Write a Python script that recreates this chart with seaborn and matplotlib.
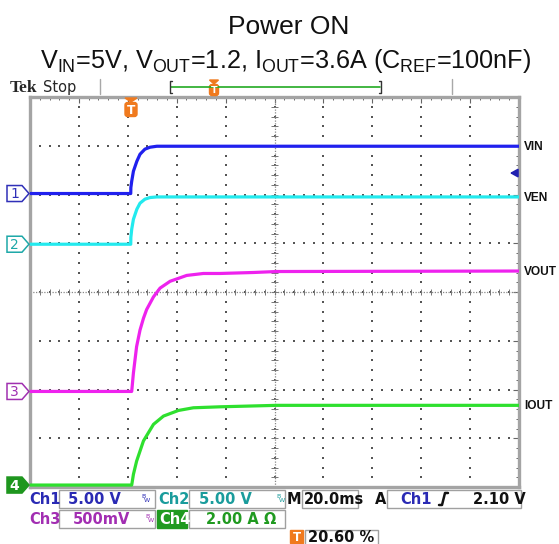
import numpy as np
import pandas as pd
import seaborn as sns
import matplotlib.pyplot as plt
from matplotlib.patches import Rectangle, Polygon, FancyBboxPatch

# traces, time in ms from the trigger point
vin_t = [-41.2, 0.0, 0.05, 0.4, 1.1, 2.5, 3.8, 5.8, 7.9, 10.7, 158.8]
vin_v = [0.0, 0.0, 0.6, 1.26, 2.29, 3.31, 4.03, 4.55, 4.75, 4.85, 4.85]

ven_t = [-41.2, 0.0, 0.05, 0.4, 1.1, 2.5, 3.8, 5.8, 7.9, 10.7, 158.8]
ven_v = [0.0, 0.0, 0.7, 1.54, 2.56, 3.59, 4.21, 4.62, 4.79, 4.85, 4.85]

vout_t = [-41.2, 0.4, 1.1, 2.4, 3.8, 5.2, 6.5, 9.3, 12.0, 16.1, 19.5, 22.9, 29.7, 36.5, 50.1, 59.7, 158.8]
vout_v = [0.0, 0.0, 0.19, 0.46, 0.63, 0.75, 0.84, 0.97, 1.06, 1.13, 1.16, 1.19, 1.21, 1.21, 1.22, 1.23, 1.235]

iout_t = [-41.2, 0.4, 1.1, 2.4, 5.2, 9.3, 13.4, 19.5, 25.6, 36.5, 59.7, 158.8]
iout_a = [0.0, 0.0, 0.44, 0.98, 1.81, 2.49, 2.83, 3.06, 3.17, 3.21, 3.27, 3.27]

channels = ["VIN", "VEN", "VOUT", "IOUT"]
units_per_div = [5.0, 5.0, 0.5, 2.0]
ground_div = [2.02, 0.98, -2.04, -3.96]
trace_colors = ["#2020ee", "#22eaee", "#ee22ee", "#2ee02e"]

# horizontal: 20 ms/div, trigger at 20.6 % of the record
ms_per_div = 20.0
t_left = -0.206 * 10 * ms_per_div
t_right = t_left + 10 * ms_per_div

sns.set_style("white")
plt.rcParams["font.family"] = ["Liberation Sans", "DejaVu Sans"]
plt.rcParams["mathtext.fontset"] = "custom"
plt.rcParams["mathtext.rm"] = "Liberation Sans"

# screen geometry in pixels
FW, FH = 559, 544
GX0, GY0, GW, GH = 30, 97, 489, 390


def div_to_py(d):
    return GY0 + (4 - d) * GH / 8


rows = []
for name, ts, vs, scale, gnd in zip(channels, [vin_t, ven_t, vout_t, iout_t],
                                    [vin_v, ven_v, vout_v, iout_a],
                                    units_per_div, ground_div):
    for t, v in zip(ts, vs):
        rows.append({"channel": name, "t_ms": t, "div": gnd + v / scale, "value": v})
scope = pd.DataFrame(rows)

fig = plt.figure(figsize=(FW / 100, FH / 100), dpi=100)
ax = fig.add_axes([GX0 / FW, 1 - (GY0 + GH) / FH, GW / FW, GH / FH])
ax.set_xlim(t_left, t_right)
ax.set_ylim(-4, 4)

# graticule
grid_col = "#555555"
xs_major = t_left + ms_per_div * np.arange(1, 10)
ys_major = np.arange(-3, 4)
dots_y = np.arange(-4, 4.001, 0.2)
dots_x = t_left + np.arange(0, 200.001, 4)
for x in xs_major:
    ax.scatter(np.full(dots_y.size, x), dots_y, s=1.2, marker="s", color=grid_col, lw=0, zorder=1)
for y in ys_major:
    ax.scatter(dots_x, np.full(dots_x.size, y), s=1.2, marker="s", color=grid_col, lw=0, zorder=1)

x_mid = t_left + 5 * ms_per_div
ax.axhline(0, color="#888888", lw=0.9, ls=(0, (1, 1.2)), zorder=1)
ax.axvline(x_mid, color="#888888", lw=0.9, ls=(0, (1, 1.2)), zorder=1)
ax.vlines(dots_x, -0.07, 0.07, color="#777777", lw=0.7, zorder=1)
ax.hlines(dots_y, x_mid - 1.4, x_mid + 1.4, color="#777777", lw=0.7, zorder=1)

sns.lineplot(data=scope, x="t_ms", y="div", hue="channel", hue_order=channels,
             palette=trace_colors, linewidth=2.3, legend=False, estimator=None,
             sort=False, ax=ax, zorder=3)

ax.set_xticks(t_left + ms_per_div * np.arange(0, 11))
ax.set_xticks(dots_x, minor=True)
ax.set_yticks(np.arange(-4, 5))
ax.set_yticks(dots_y, minor=True)
ax.tick_params(which="both", direction="in", top=True, right=True, color="#666666",
               labelbottom=False, labelleft=False)
ax.tick_params(which="major", length=4, width=0.8)
ax.tick_params(which="minor", length=2.5, width=0.7)
ax.set_xlabel("")
ax.set_ylabel("")
for sp in ax.spines.values():
    sp.set_color("#a4a4a4")
    sp.set_linewidth(2.4)

# overlay in pixel coordinates for the scope decorations
deco = fig.add_axes([0, 0, 1, 1], facecolor="none")
deco.set_xlim(0, FW)
deco.set_ylim(FH, 0)
deco.axis("off")

deco.text(289, 34, "Power ON", ha="center", va="baseline", fontsize=19, color="#111111")
deco.text(286, 68, r"V$_\mathrm{IN}$=5V, V$_\mathrm{OUT}$=1.2, I$_\mathrm{OUT}$=3.6A (C$_\mathrm{REF}$=100nF)",
          ha="center", va="baseline", fontsize=18.2, color="#111111")

deco.text(10, 92, "Tek", fontsize=12.5, fontweight="bold", family="Liberation Serif", va="baseline")
deco.text(43, 92, "Stop", fontsize=10.5, va="baseline", family="DejaVu Sans")

# record bar
orange = "#f07a1e"
for x in (100, 452):
    deco.plot([x, x], [79, 94], color="#a8a8a8", lw=1)
deco.plot([171, 380], [87, 87], color="#22aa22", lw=1.2)
deco.plot([172, 170, 170, 172], [81, 81, 93, 93], color="#333333", lw=1)
deco.plot([379, 381, 381, 379], [81, 81, 93, 93], color="#333333", lw=1)


def t_marker(xc, ytop, w, h):
    deco.add_patch(Polygon([(xc - w / 2, ytop), (xc + w / 2, ytop), (xc, ytop + 4)], color=orange))
    deco.add_patch(FancyBboxPatch((xc - w / 2, ytop + 4.5), w, h, boxstyle="round,pad=0,rounding_size=2.5",
                                  fc=orange, ec=orange))
    deco.text(xc, ytop + 4.5 + h / 2 + 0.5, "T", ha="center", va="center", color="white",
              fontsize=h * 0.62, fontweight="bold", family="DejaVu Sans")


t_marker(214, 80, 9, 11)
t_marker(131, 98, 12, 14)

# channel ground markers
for i, (num, col) in enumerate(zip("1234", ["#3030b8", "#1ea8a8", "#a030b0", "#1e961e"])):
    yc = div_to_py(ground_div[i])
    filled = num == "4"
    deco.add_patch(Polygon([(7, yc - 8), (22, yc - 8), (29, yc), (22, yc + 8), (7, yc + 8)],
                           fc=col if filled else "white", ec=col, lw=1.1))
    deco.text(14.5, yc + 0.5, num, ha="center", va="center", fontsize=10,
              color="white" if filled else col, family="DejaVu Sans", fontweight="bold" if filled else "normal")

# channel names at the right edge
last_vals = [vin_v[-1], ven_v[-1], vout_v[-1], iout_a[-1]]
for name, v, scale, gnd in zip(channels, last_vals, units_per_div, ground_div):
    deco.text(524, div_to_py(gnd + v / scale) + 1, name, ha="left", va="center",
              fontsize=8.6, fontweight="bold", family="Liberation Sans", color="#111111")

# ch1 trigger level arrow (2.10 V)
ya = div_to_py(ground_div[0] + 2.10 / units_per_div[0])
deco.annotate("", xy=(507, ya), xytext=(519, ya),
              arrowprops=dict(arrowstyle="-|>,head_width=0.25,head_length=0.45", color="#2020b0", lw=1.3))

# readout area
info_font = dict(family="DejaVu Sans", fontweight="bold", fontsize=10.5, va="center")


def box(x0, x1, y0, y1, fc="white", ec="#a0a0a0"):
    deco.add_patch(Rectangle((x0, y0), x1 - x0, y1 - y0, fc=fc, ec=ec, lw=1))


def bw(x, y, col):
    deco.text(x, y - 3, "B", fontsize=4.5, color=col, ha="left", va="center", family="DejaVu Sans")
    deco.text(x + 3, y + 2, "W", fontsize=4.5, color=col, ha="left", va="center", family="DejaVu Sans")


c1, c2, c3, c4 = "#2a2ab4", "#1a9c9c", "#a22eb2", "#209a20"
r1, r2, r3 = 499, 519, 537
box(59, 155, 490, 508)
box(189, 285, 490, 508)
box(302, 358, 490, 508)
box(387, 521, 490, 508)
box(59, 155, 510, 528)
box(189, 285, 510, 528)
box(305, 378, 530, 545)

deco.text(29, r1, "Ch1", color=c1, **info_font)
deco.text(68, r1, "5.00 V", color=c1, **info_font)
bw(141, r1, c1)
deco.text(158, r1, "Ch2", color=c2, **info_font)
deco.text(199, r1, "5.00 V", color=c2, **info_font)
bw(276, r1, c2)
deco.text(287, r1, "M", color="#111111", **info_font)
deco.text(304, r1, "20.0ms", color="#111111", **info_font)
deco.text(375, r1, "A", color="#111111", **info_font)
deco.text(400, r1, "Ch1", color=c1, **info_font)
deco.plot([439, 442, 445, 448], [505, 505, 493, 493], color="#111111", lw=1.8)
deco.text(473, r1, "2.10 V", color="#111111", **info_font)

deco.text(29, r2, "Ch3", color=c3, **info_font)
deco.text(73, r2, "500mV", color=c3, **info_font)
bw(145, r2, c3)
box(157, 187, 510, 528, fc=c4, ec=c4)
deco.text(159, r2, "Ch4", color="white", **info_font)
deco.text(206, r2, "2.00 A Ω", color=c4, **info_font)

box(290, 303, 530, 543, fc=orange, ec=orange)
deco.text(296.5, r3 + 0.5, "T", ha="center", va="center", color="white", fontsize=8.5,
          fontweight="bold", family="DejaVu Sans")
deco.text(308, r3, "20.60 %", color="#111111", **info_font)

fig.savefig("out.png", dpi=100)
